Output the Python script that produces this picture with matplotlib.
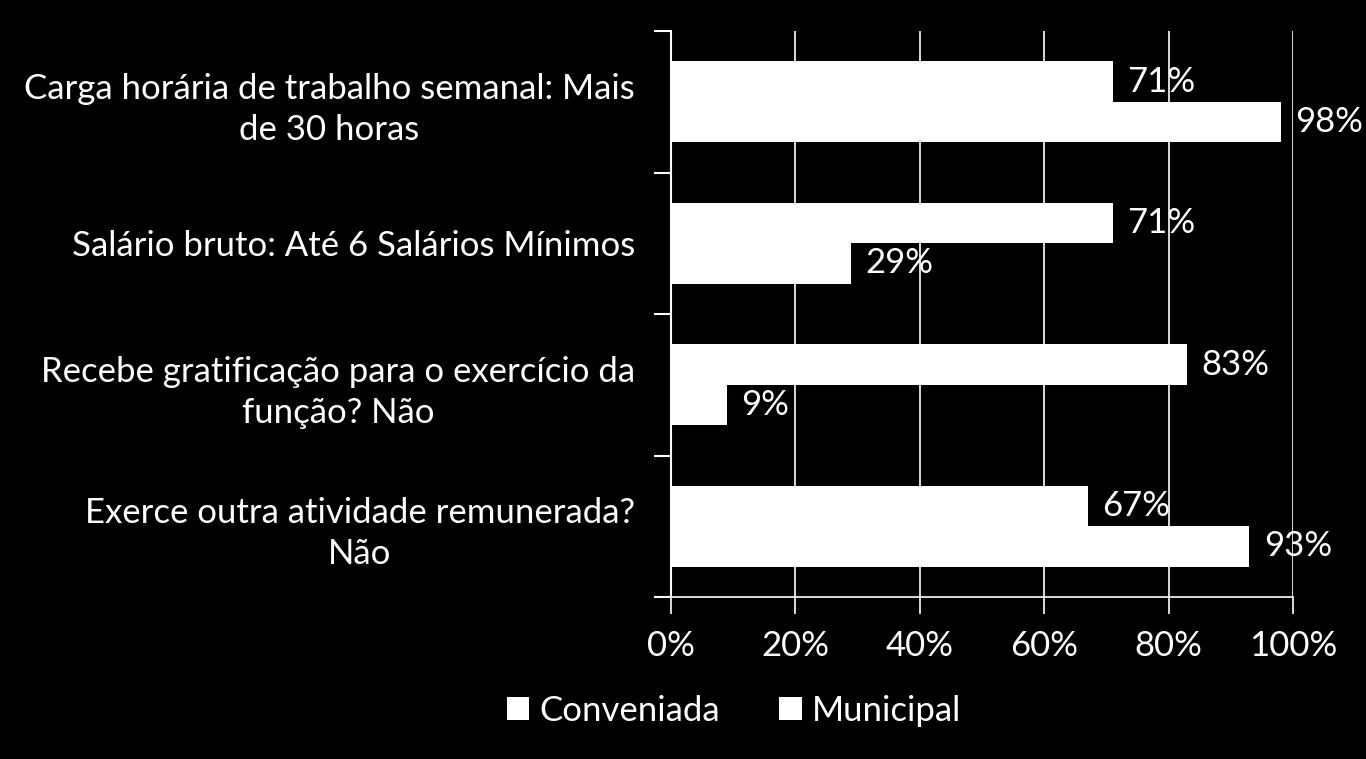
import numpy as np
import matplotlib.pyplot as plt
from matplotlib.patches import Patch

categories = ['Carga horária de trabalho semanal: Mais\nde 30 horas',
              'Salário bruto: Até 6 Salários Mínimos',
              'Recebe gratificação para o exercício da\nfunção? Não',
              'Exerce outra atividade remunerada?\nNão']
conveniada = [71, 71, 83, 67]
municipal = [98, 29, 9, 93]
series_names = ['Conveniada', 'Municipal']
xticks = [0, 20, 40, 60, 80, 100]

plt.rcParams['font.family'] = ['Lato', 'DejaVu Sans']
fs = 25

fig = plt.figure(figsize=(13.66, 7.59), dpi=100, facecolor='black')
ax = fig.add_axes([671/1366, 1-597/759, 622/1366, 566/759], facecolor='black')

y = np.arange(len(categories))
h = 0.285
ax.barh(y - h/2, conveniada, height=h, color='white', zorder=3)
ax.barh(y + h/2, municipal, height=h, color='white', zorder=3)

for i in range(len(categories)):
    ax.text(conveniada[i] + 2.3, y[i] - h/2, f'{conveniada[i]}%', color='white',
            fontsize=fs, va='center', ha='left', zorder=4)
    ax.text(municipal[i] + 2.3, y[i] + h/2, f'{municipal[i]}%', color='white',
            fontsize=fs, va='center', ha='left', zorder=4)

ax.set_xlim(0, 100)
ax.set_ylim(len(categories) - 0.5, -0.5)
ax.set_xticks(xticks)
ax.set_xticklabels([f'{t}%' for t in xticks], color='white', fontsize=fs)
ax.xaxis.grid(True, color='white', linewidth=1.2, zorder=1)

ax.set_yticks(np.arange(-0.5, len(categories), 1))
ax.set_yticklabels([])
ax.set_yticks(y, minor=True)
ax.set_yticklabels(categories, minor=True, color='white', fontsize=fs,
                   multialignment='center', linespacing=1.35)
ax.tick_params(axis='y', which='major', length=12, width=1.5, color='white')
ax.tick_params(axis='y', which='minor', length=0, pad=26)
ax.tick_params(axis='x', length=12, width=1.2, color='white', pad=12)

for s in ['top', 'right']:
    ax.spines[s].set_visible(False)
ax.spines['left'].set_color('white')
ax.spines['left'].set_linewidth(1.5)
ax.spines['bottom'].set_color('white')
ax.spines['bottom'].set_linewidth(1.2)

handles = [Patch(facecolor='white', edgecolor='none') for _ in series_names]
fig.legend(handles, series_names, loc='center', bbox_to_anchor=(734/1366, 1-711/759),
           ncol=2, frameon=False, fontsize=fs, labelcolor='white',
           handlelength=0.65, handleheight=0.65, handletextpad=0.3, columnspacing=1.7)

fig.savefig('out.png', dpi=100, facecolor='black')
